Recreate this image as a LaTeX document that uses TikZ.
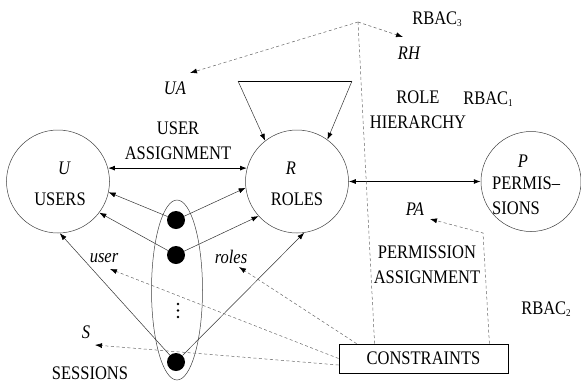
\documentclass[tikz,border=0pt]{standalone}
\usepackage{fontspec}
\setmainfont{Liberation Serif}[FakeStretch=0.86]
\usetikzlibrary{arrows.meta,calc}
\newcommand{\lvl}[1]{RBAC\raisebox{-2.5pt}{\fontsize{10.5}{10.5}\selectfont #1}}
\begin{document}
\begin{tikzpicture}[x=1pt,y=-1pt,
  font=\fontsize{19.2}{25}\selectfont,
  ent/.style={circle,draw=black!75,line width=0.5pt,minimum size=103pt,inner sep=0pt},
  dotnode/.style={circle,fill=black,minimum size=18pt,inner sep=0pt},
  txt/.style={inner sep=0pt,anchor=center,align=center},
  it/.style={txt,font=\fontsize{19.2}{25}\selectfont\itshape},
  tip/.style={-{Latex[length=7pt,width=5pt,color=black]}},
  arr/.style={tip,line width=0.5pt,draw=black!80},
  dbl/.style={{Latex[length=7pt,width=5pt]}-{Latex[length=7pt,width=5pt]},line width=0.9pt},
  dsh/.style={dash pattern=on 3pt off 2.5pt,line width=0.5pt,draw=black!60},
  dsharr/.style={dsh,tip},
]
\useasboundingbox (0,0) rectangle (581,384);

% entity sets
\node[ent] (U) at (58,181.5) {};
\node[ent] (R) at (297,181.5) {};
\node[ent,minimum size=100pt] (P) at (531,181.5) {};
\node[it]  (Ul) at (64,168) {U};
\node[txt] (Ut) at (60,199) {USERS};
\node[it]  (Rl) at (291,168) {R};
\node[txt] (Rt) at (297,199) {ROLES};
\node[it]  (Pl) at (523,161) {P};
\node[inner sep=0pt,anchor=west,align=left] (Pt) at (492,196) {PERMIS--\\SIONS};

% sessions
\draw[black!75,line width=0.5pt] (177,290) ellipse [x radius=25.5pt, y radius=90pt];
\node[dotnode] (d1) at (176,220) {};
\node[dotnode] (d2) at (176,255) {};
\node[dotnode] (d3) at (176,362) {};
\foreach \yy in {304,310.5,317} \fill (178,\yy) circle (1.3pt);
\node[it]  (Sl) at (86,332) {S};
\node[txt] (St) at (90,373) {SESSIONS};

% assignments
\draw[dbl] (U.15) -- (R.165);
\draw[dbl] (R.0) -- (P.180);
\node[txt] (UAt) at (178,140.5) {USER\\ASSIGNMENT};
\node[it]  (UAl) at (175,88) {UA};
\node[txt] (PAt) at (427,264.5) {PERMISSION\\ASSIGNMENT};
\node[it]  (PAl) at (415,209) {PA};

% role hierarchy loop
\coordinate (lt) at (238,81);
\coordinate (rt) at (352,81);
\draw[line width=0.9pt] (lt) -- (rt);
\draw[arr] (lt) -- (R.128);
\draw[arr] (rt) -- (R.54);
\node[txt] (RHt) at (418,109.5) {ROLE\\HIERARCHY};
\node[it]  (RHl) at (409,53) {RH};

% session links
\draw[arr] (d1) -- (U.-12);
\draw[arr] (d2) -- (U.-37);
\draw[arr] (d3) -- (U.-88);
\draw[arr] (d1) -- (R.-173);
\draw[arr] (d2) -- (R.-138);
\draw[arr] (d3) -- (R.-82);
\node[it] (usr) at (104,258) {user};
\node[it] (rls) at (231,257) {roles};

% model levels
\node[txt] (B3) at (437,19) {\lvl{3}};
\node[txt] (B1) at (488,99) {\lvl{1}};
\node[txt] (B2) at (546,309) {\lvl{2}};

% constraints
\node[draw,line width=0.8pt,minimum width=169pt,minimum height=29pt,inner sep=0pt] (C) at (423.5,358.5) {CONSTRAINTS};

\coordinate (apex) at (358,22);
\coordinate (uaTip) at (190,73);
\coordinate (rhTip) at (403,37);
\coordinate (c1) at ($(C.north west)+(36,0)$);
\coordinate (c2) at ($(C.north east)+(-19,0)$);
\coordinate (c3) at ($(C.north west)+(18,0)$);
\coordinate (c4) at ($(C.west)+(0,6.5)$);
\coordinate (pbend) at (483,233);
\coordinate (paTip) at (430,219);
\coordinate (userTip) at (110,269);
\coordinate (rolesTip) at (239,267);
\coordinate (sTip) at (95,345);

\draw[dsharr] (apex) -- (uaTip);
\draw[dsharr] (apex) -- (rhTip);
\draw[dsh] (apex) -- (c1);
\draw[dsharr] (c2) -- (pbend) -- (paTip);
\draw[dsharr] (c3) -- (rolesTip);
\draw[dsharr] (C.west) -- (userTip);
\draw[dsharr] (c4) -- (sTip);
\end{tikzpicture}
\end{document}
